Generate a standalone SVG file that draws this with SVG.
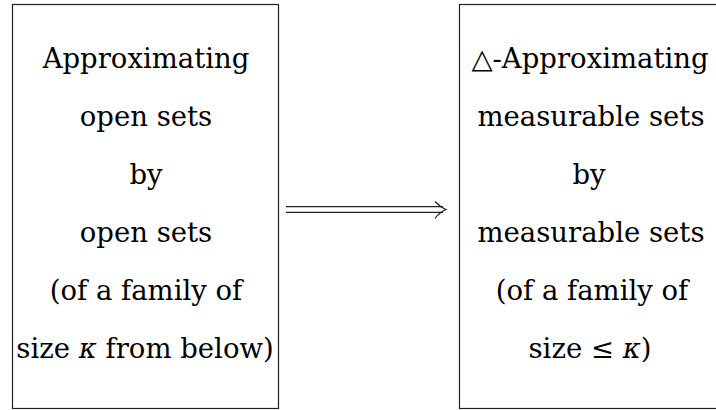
<svg xmlns="http://www.w3.org/2000/svg" width="716" height="410" viewBox="0 0 716 410">
<style>
.box{fill:none;stroke:#222;stroke-width:1.2}
.t{font-family:"DejaVu Serif",serif;font-size:27.5px;fill:#000;text-anchor:middle}
.c{fill:none;stroke:#222;stroke-width:1.2}
</style>
<rect width="716" height="410" fill="#fff"/>
<g id="left">
<rect class="box" x="12.5" y="4.5" width="266" height="404"/>
<text class="t" x="146" y="68">Approximating</text>
<text class="t" x="146" y="126">open sets</text>
<text class="t" x="146" y="184">by</text>
<text class="t" x="146" y="242">open sets</text>
<text class="t" x="146" y="300">(of a family of</text>
<text class="t" x="145" y="358">size <tspan font-style="italic">κ</tspan> from below)</text>
</g>
<g id="right">
<rect class="box" x="459.5" y="4.5" width="270" height="404"/>
<text class="t" x="590" y="68">△-Approximating</text>
<text class="t" x="591" y="126">measurable sets</text>
<text class="t" x="589" y="184">by</text>
<text class="t" x="591" y="242">measurable sets</text>
<text class="t" x="592" y="300">(of a family of</text>
<text class="t" x="590" y="358">size ≤ <tspan font-style="italic">κ</tspan>)</text>
</g>
<g id="connectors">
<line class="c" x1="286" y1="206.7" x2="443" y2="206.7"/>
<line class="c" x1="286" y1="212.3" x2="443" y2="212.3"/>
<path class="c" d="M435,201.5 Q440,207 446,209.5 Q440,212 435,218.3"/>
</g>
</svg>
